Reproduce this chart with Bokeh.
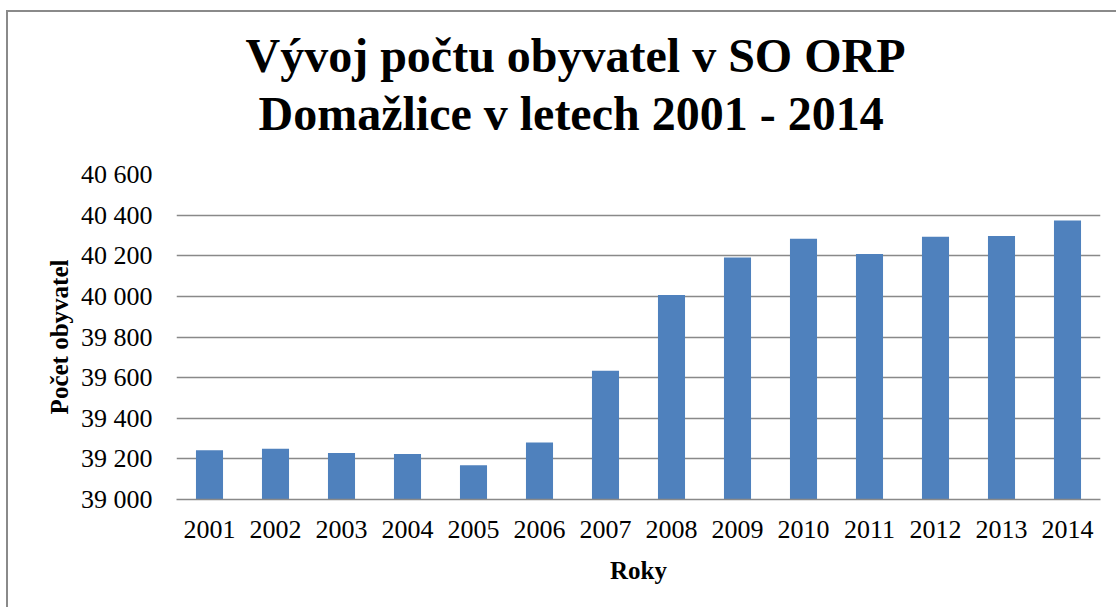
from bokeh.plotting import figure
from bokeh.models import Title, FactorRange, Range1d, ColumnDataSource
from bokeh.embed import file_html
from bokeh.resources import INLINE

years = ["2001", "2002", "2003", "2004", "2005", "2006", "2007",
         "2008", "2009", "2010", "2011", "2012", "2013", "2014"]
population = [39243, 39250, 39229, 39224, 39169, 39281, 39634,
              40007, 40192, 40284, 40209, 40294, 40297, 40373]
y_ticks = [39000, 39200, 39400, 39600, 39800, 40000, 40200, 40400, 40600]
y_tick_labels = ["39 000", "39 200", "39 400", "39 600", "39 800",
                 "40 000", "40 200", "40 400", "40 600"]
title_lines = ["Vývoj počtu obyvatel v SO ORP", "Domažlice v letech 2001 - 2014"]
x_label = "Roky"
y_label = "Počet obyvatel"

FONT = "Liberation Serif"
GRID = "#898989"
BAR = "#4F81BD"

source = ColumnDataSource(data=dict(years=years, population=population))

p = figure(
    x_range=FactorRange(*years, range_padding=0),
    y_range=Range1d(39000, 40600),
    width=1110, height=597,
    output_backend="svg", toolbar_location=None,
    min_border_left=168, min_border_right=18,
    min_border_top=162, min_border_bottom=110,
)
p.styles = {"border-left": "2px solid #8a8a8a", "border-top": "2px solid #8a8a8a",
            "margin-top": "10px", "margin-left": "6px"}

p.vbar(x="years", top="population", bottom=39000, width=0.41, source=source,
       fill_color=BAR, line_color=None)

p.outline_line_color = None
p.background_fill_color = "white"
p.border_fill_color = "white"

p.xgrid.grid_line_color = None
p.ygrid.grid_line_color = GRID
p.ygrid.grid_line_width = 1.3

p.yaxis.ticker = y_ticks
p.yaxis.major_label_overrides = {t: l for t, l in zip(y_ticks, y_tick_labels)}
p.yaxis.axis_line_color = None
p.yaxis.major_tick_line_color = None
p.yaxis.minor_tick_line_color = None
p.yaxis.major_label_standoff = 18
p.yaxis.major_label_text_font = FONT
p.yaxis.major_label_text_font_size = "26px"
p.yaxis.major_label_text_color = "black"
p.yaxis.axis_label = y_label
p.yaxis.axis_label_text_font = FONT
p.yaxis.axis_label_text_font_size = "25px"
p.yaxis.axis_label_text_font_style = "bold"
p.yaxis.axis_label_text_color = "black"
p.yaxis.axis_label_standoff = 5

p.xaxis.axis_line_color = GRID
p.xaxis.axis_line_width = 1.3
p.xaxis.major_tick_line_color = None
p.xaxis.minor_tick_line_color = None
p.xaxis.major_label_standoff = 15
p.xaxis.major_label_text_font = FONT
p.xaxis.major_label_text_font_size = "26px"
p.xaxis.major_label_text_color = "black"
p.xaxis.axis_label = x_label
p.xaxis.axis_label_text_font = FONT
p.xaxis.axis_label_text_font_size = "25px"
p.xaxis.axis_label_text_font_style = "bold"
p.xaxis.axis_label_text_color = "black"
p.xaxis.axis_label_standoff = 16

# spacer between title block and the plot frame
p.add_layout(Title(text=" ", text_font_size="10px", standoff=20), "above")
offsets = [69, 82]
for txt, off in reversed(list(zip(title_lines, offsets))):
    p.add_layout(Title(text=txt, align="left", offset=off, standoff=3,
                       text_font=FONT, text_font_size="48px", text_font_style="bold",
                       text_color="black"), "above")

open("out.html", "w").write(file_html(p, INLINE))
